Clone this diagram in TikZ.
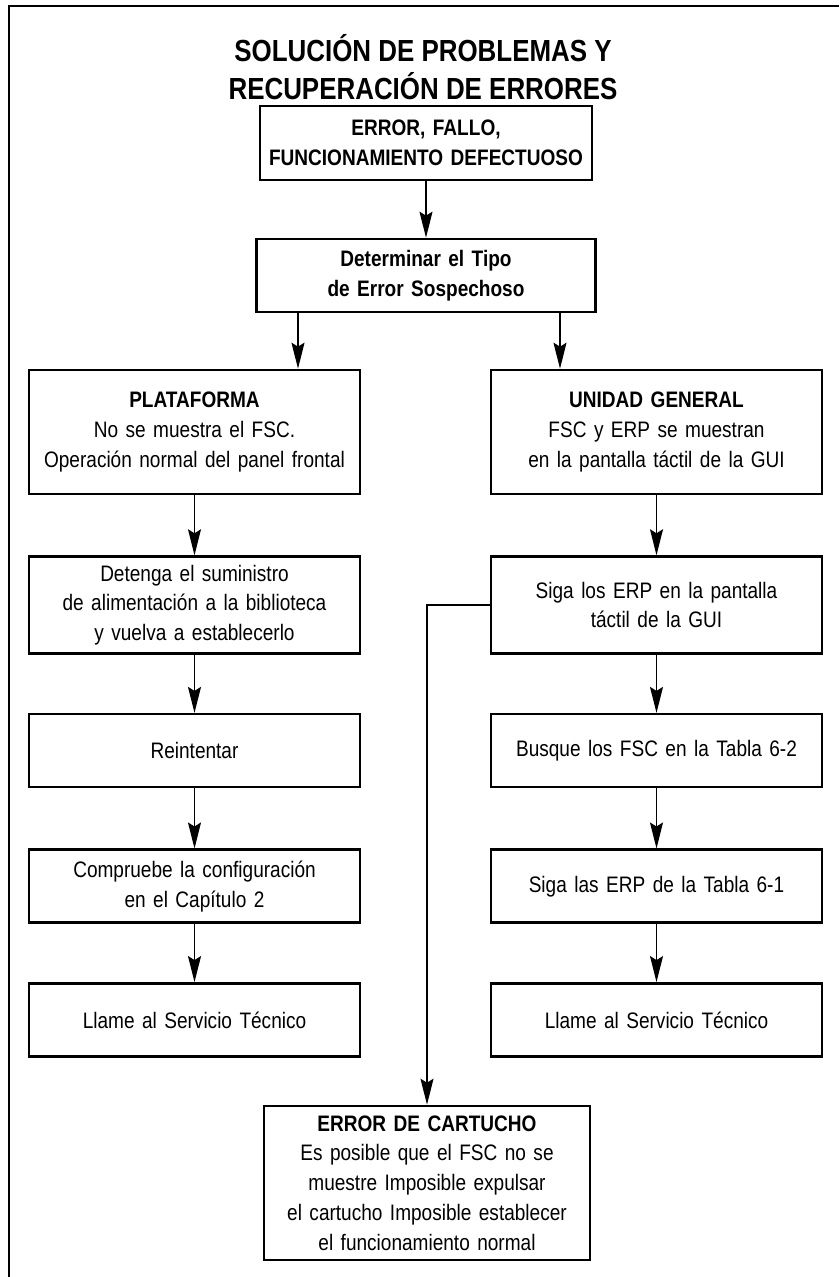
\documentclass[tikz,border=0pt]{standalone}
\usepackage{fontspec}
\setmainfont{Liberation Sans}[FakeStretch=0.85]
\usetikzlibrary{arrows.meta, positioning, calc}

\begin{document}
\begin{tikzpicture}[
        x=1pt, y=1pt,
        node distance=60pt,
        stepbox/.style={rectangle, draw, line width=2.6pt, align=center, inner sep=4pt, font={\fontsize{22.4}{29.8}\selectfont}},
        colbox/.style={stepbox, text width=323pt, minimum height=73pt},
        titletext/.style={align=center, font={\fontsize{30.5}{38}\selectfont\bfseries}},
        arrow/.style={line width=1.3pt, -{Stealth[length=26pt, width=13pt, inset=4pt]}},
        link/.style={line width=1.3pt}
    ]
        \useasboundingbox (0,0) rectangle (839,1277);
        % Frame
        \draw[line width=2.7pt] (839,1271) -- (9,1271) -- (9,0);

        % Title
        \node (title) [titletext] at (423,1210) {SOLUCIÓN DE PROBLEMAS Y\\RECUPERACIÓN DE ERRORES};

        % Top of the chart
        \node (fault) [stepbox, text width=324pt, minimum height=74pt] at (426,1134) {\textbf{ERROR, FALLO,}\\\textbf{FUNCIONAMIENTO DEFECTUOSO}};
        \node (kind) [stepbox, text width=331pt, minimum height=73pt] at (426,1001.5) {\textbf{Determinar el Tipo}\\\textbf{de Error Sospechoso}};

        % Left column
        \node (platform) [colbox, minimum height=124pt] at (194.5,845) {\textbf{PLATAFORMA}\\No se muestra el FSC.\\Operación normal del panel frontal};
        \node (power) [colbox, minimum height=97pt, below=60pt of platform] {Detenga el suministro\\de alimentación a la biblioteca\\y vuelva a establecerlo};
        \node (retry) [colbox, below=58pt of power] {Reintentar};
        \node (config) [colbox, below=60pt of retry] {Compruebe la configuración\\en el Capítulo 2};
        \node (callL) [colbox, below=58pt of config] {Llame al Servicio Técnico};

        % Right column
        \node (unit) [colbox, minimum height=124pt] at (656.5,845) {\textbf{UNIDAD GENERAL}\\FSC y ERP se muestran\\en la pantalla táctil de la GUI};
        \node (gui) [colbox, minimum height=97pt, below=60pt of unit] {Siga los ERP en la pantalla\\táctil de la GUI};
        \node (lookup) [colbox, below=58pt of gui] {Busque los FSC en la Tabla 6-2};
        \node (follow) [colbox, below=60pt of lookup] {Siga las ERP de la Tabla 6-1};
        \node (callR) [colbox, below=58pt of follow] {Llame al Servicio Técnico};

        % Cartridge
        \node (cart) [stepbox, text width=318pt, minimum height=154pt] at (427,94) {\textbf{ERROR DE CARTUCHO}\\Es posible que el FSC no se\\muestre Imposible expulsar\\el cartucho Imposible establecer\\el funcionamiento normal};

        % Flows
        \draw [arrow] (fault.south) -- (kind.north);
        \draw [arrow] ([xshift=-128pt]kind.south) -- ([xshift=-128pt]kind.south |- platform.north);
        \draw [arrow] ([xshift=134pt]kind.south) -- ([xshift=134pt]kind.south |- unit.north);

        \draw [arrow] (platform) -- (power);
        \draw [arrow] (power) -- (retry);
        \draw [arrow] (retry) -- (config);
        \draw [arrow] (config) -- (callL);

        \draw [arrow] (unit) -- (gui);
        \draw [arrow] (gui) -- (lookup);
        \draw [arrow] (lookup) -- (follow);
        \draw [arrow] (follow) -- (callR);

        \draw [arrow] (gui.west) -| (cart.north);
    \end{tikzpicture}
\end{document}
